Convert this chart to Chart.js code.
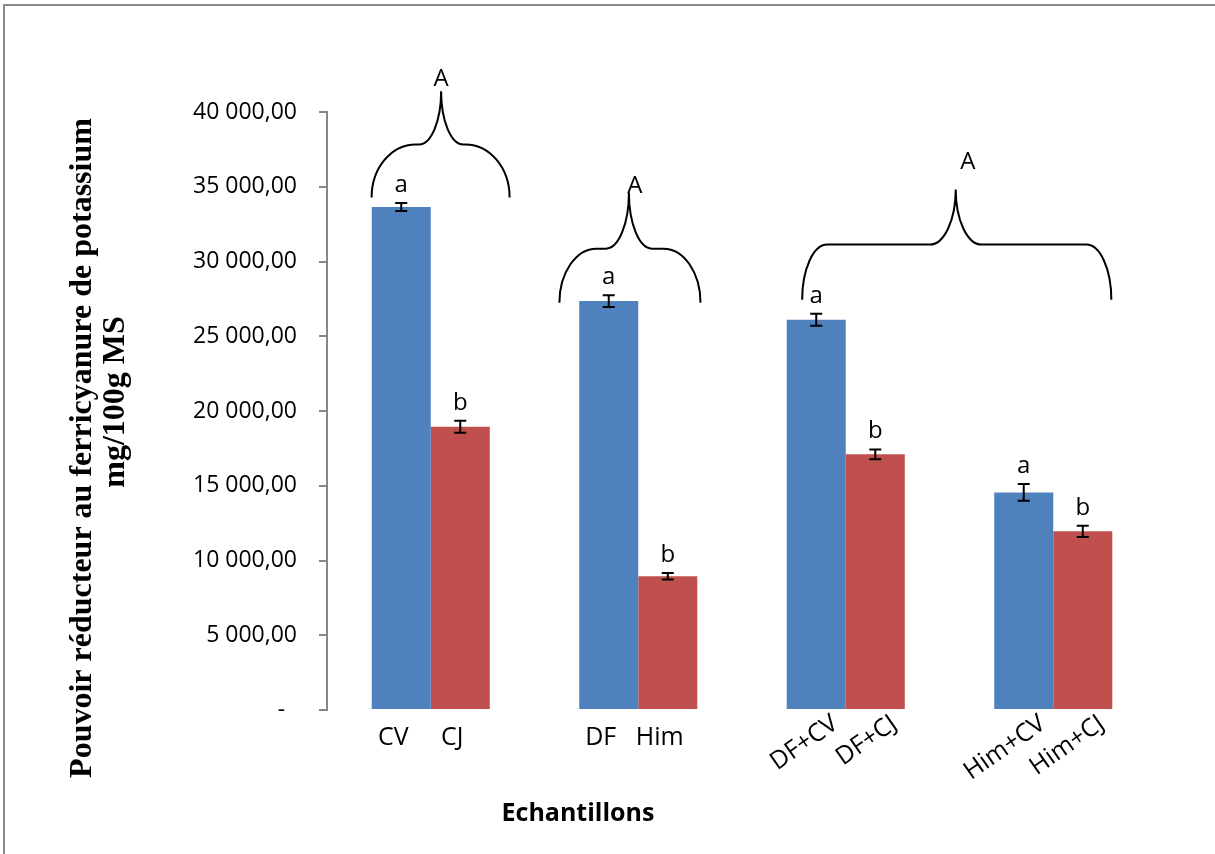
<!DOCTYPE html>
<html>
<head>
<meta charset="utf-8">
<script src="https://cdn.jsdelivr.net/npm/chart.js@4.4.1/dist/chart.umd.min.js"></script>
<style>
  html, body { margin: 0; padding: 0; background: #ffffff; }
  canvas { display: block; }
</style>
</head>
<body>
<canvas id="chart" width="1215" height="854"></canvas>
<script>
// Sample groups and the two samples shown in each group
const groups = ['CV / CJ', 'DF / Him', 'DF+CV / DF+CJ', 'Him+CV / Him+CJ'];
const blueNames = ['CV', 'DF', 'DF+CV', 'Him+CV'];
const redNames = ['CJ', 'Him', 'DF+CJ', 'Him+CJ'];

// Reducing power (mg/100g MS) and standard deviations
const blueValues = [33650, 27350, 26100, 14550];
const redValues = [18950, 8950, 17100, 11950];
const blueErrors = [270, 400, 400, 560];
const redErrors = [400, 220, 330, 370];

// Significance letters within each group
const blueLetters = ['a', 'a', 'a', 'a'];
const redLetters = ['b', 'b', 'b', 'b'];

// Letters placed on top of the group braces
const braceLetters = ['A', 'A', 'A'];

// Y axis ticks
const yTicks = [0, 5000, 10000, 15000, 20000, 25000, 30000, 35000, 40000];

// ---- styling ----
const BLUE = '#4F81BD';
const RED = '#C0504D';
const AXIS = '#878787';
const SANS = '"Open Sans", "DejaVu Sans", sans-serif';
const SERIF = '"Liberation Serif", "DejaVu Serif", serif';

// Brace geometry: x in category units (index + offset), y in axis units
const braceShapes = [
  { left: -0.285, right: 0.38, tip: 0.05, base: 34280, level: 37830, peak: 41390, rx: 44, tx: 22, labelDx: 0, labelY: 42200 },
  { left: 1 - 0.38, right: 1.30, tip: 1 - 0.045, base: 27240, level: 30860, peak: 34620, rx: 37, tx: 23, labelDx: 6, labelY: 35020 },
  { left: 2 - 0.21, right: 3.28, tip: 2.53, base: 27440, level: 31130, peak: 34820, rx: 25, tx: 26, labelDx: 12, labelY: 36630 }
];

function frNumber(v) {
  if (v === 0) return '-  ';
  const parts = v.toFixed(2).split('.');
  const intPart = parts[0].replace(/\B(?=(\d{3})+(?!\d))/g, ' ');
  return intPart + ',' + parts[1];
}

const annotations = {
  id: 'annotations',
  beforeDraw(chart) {
    const ctx = chart.ctx;
    ctx.save();
    ctx.fillStyle = '#ffffff';
    ctx.fillRect(0, 0, chart.width, chart.height);
    // outer frame
    ctx.strokeStyle = '#8a8a8a';
    ctx.lineWidth = 2;
    ctx.beginPath();
    ctx.moveTo(4, chart.height);
    ctx.lineTo(4, 5);
    ctx.lineTo(chart.width, 5);
    ctx.stroke();
    ctx.restore();
  },
  afterDraw(chart) {
    const ctx = chart.ctx;
    const xs = chart.scales.x;
    const ys = chart.scales.y;
    const sets = [
      { meta: chart.getDatasetMeta(0), values: blueValues, errors: blueErrors, letters: blueLetters, names: blueNames },
      { meta: chart.getDatasetMeta(1), values: redValues, errors: redErrors, letters: redLetters, names: redNames }
    ];
    ctx.save();
    sets.forEach(set => {
      set.meta.data.forEach((bar, i) => {
        const x = bar.x;
        const yHi = ys.getPixelForValue(set.values[i] + set.errors[i]);
        const yLo = ys.getPixelForValue(set.values[i] - set.errors[i]);
        // error bar
        ctx.strokeStyle = '#000000';
        ctx.lineWidth = 2;
        ctx.beginPath();
        ctx.moveTo(x, yHi); ctx.lineTo(x, yLo);
        ctx.moveTo(x - 6, yHi); ctx.lineTo(x + 6, yHi);
        ctx.moveTo(x - 6, yLo); ctx.lineTo(x + 6, yLo);
        ctx.stroke();
        // significance letter
        ctx.fillStyle = '#000000';
        ctx.font = '24px ' + SANS;
        ctx.textAlign = 'center';
        ctx.textBaseline = 'alphabetic';
        ctx.fillText(set.letters[i], x, yHi - 11);
        // sample name under the bar
        ctx.font = '25px ' + SANS;
        if (i < 2) {
          ctx.textAlign = 'center';
          ctx.textBaseline = 'alphabetic';
          ctx.fillText(set.names[i], x - 8, ys.bottom + 35);
        } else {
          ctx.save();
          ctx.translate(x + 12, ys.bottom + 1);
          ctx.rotate(-35 * Math.PI / 180);
          ctx.textAlign = 'right';
          ctx.textBaseline = 'top';
          ctx.fillText(set.names[i], 0, 0);
          ctx.restore();
        }
      });
    });

    // group braces
    const unit = xs.getPixelForValue(1) - xs.getPixelForValue(0);
    const px = v => xs.getPixelForValue(0) + v * unit;
    const k = 0.5523;
    ctx.strokeStyle = '#000000';
    ctx.lineWidth = 2;
    braceShapes.forEach((b, i) => {
      const x0 = px(b.left), x1 = px(b.right), xt = px(b.tip);
      const yb = ys.getPixelForValue(b.base);
      const yl = ys.getPixelForValue(b.level);
      const yp = ys.getPixelForValue(b.peak);
      const ry = yb - yl, ty = yl - yp;
      ctx.beginPath();
      ctx.moveTo(x0, yb);
      ctx.bezierCurveTo(x0, yb - ry * k, x0 + b.rx * (1 - k), yl, x0 + b.rx, yl);
      ctx.lineTo(xt - b.tx, yl);
      ctx.bezierCurveTo(xt - b.tx + b.tx * k, yl, xt, yp + ty * k, xt, yp);
      ctx.bezierCurveTo(xt, yp + ty * k, xt + b.tx - b.tx * k, yl, xt + b.tx, yl);
      ctx.lineTo(x1 - b.rx, yl);
      ctx.bezierCurveTo(x1 - b.rx * (1 - k), yl, x1, yb - ry * k, x1, yb);
      ctx.stroke();
      ctx.fillStyle = '#000000';
      ctx.font = '24px ' + SANS;
      ctx.textAlign = 'center';
      ctx.textBaseline = 'middle';
      ctx.fillText(braceLetters[i], xt + b.labelDx, ys.getPixelForValue(b.labelY));
    });

    // axis titles
    ctx.fillStyle = '#000000';
    ctx.font = 'bold 25px ' + SANS;
    ctx.textAlign = 'center';
    ctx.textBaseline = 'middle';
    ctx.fillText('Echantillons', 578, 814);

    ctx.save();
    ctx.translate(83, 448);
    ctx.rotate(-Math.PI / 2);
    ctx.font = 'bold 32px ' + SERIF;
    ctx.fillText('Pouvoir réducteur au ferricyanure de potassium', 0, 0);
    ctx.fillText('mg/100g MS', 46, 33);
    ctx.restore();
    ctx.restore();
  }
};

new Chart(document.getElementById('chart'), {
  type: 'bar',
  data: {
    labels: groups,
    datasets: [
      { label: 'A', data: blueValues, backgroundColor: BLUE, borderWidth: 0 },
      { label: 'B', data: redValues, backgroundColor: RED, borderWidth: 0 }
    ]
  },
  options: {
    responsive: false,
    animation: false,
    events: [],
    layout: { padding: { left: 0, top: 112, right: 58, bottom: 144 } },
    plugins: { legend: { display: false }, tooltip: { enabled: false } },
    datasets: { bar: { categoryPercentage: 0.569, barPercentage: 1.0 } },
    scales: {
      x: {
        display: false
      },
      y: {
        min: 0,
        max: 40000,
        afterFit(scale) { scale.width = 327; },
        afterBuildTicks(scale) { scale.ticks = yTicks.map(v => ({ value: v })); },
        border: { display: true, color: AXIS, width: 2 },
        grid: { display: true, drawOnChartArea: false, drawTicks: true, tickLength: 8, color: AXIS, lineWidth: 2 },
        ticks: {
          padding: 22,
          color: '#000000',
          font: { family: SANS, size: 23 },
          callback: v => frNumber(v)
        }
      }
    }
  },
  plugins: [annotations]
});
</script>
</body>
</html>
